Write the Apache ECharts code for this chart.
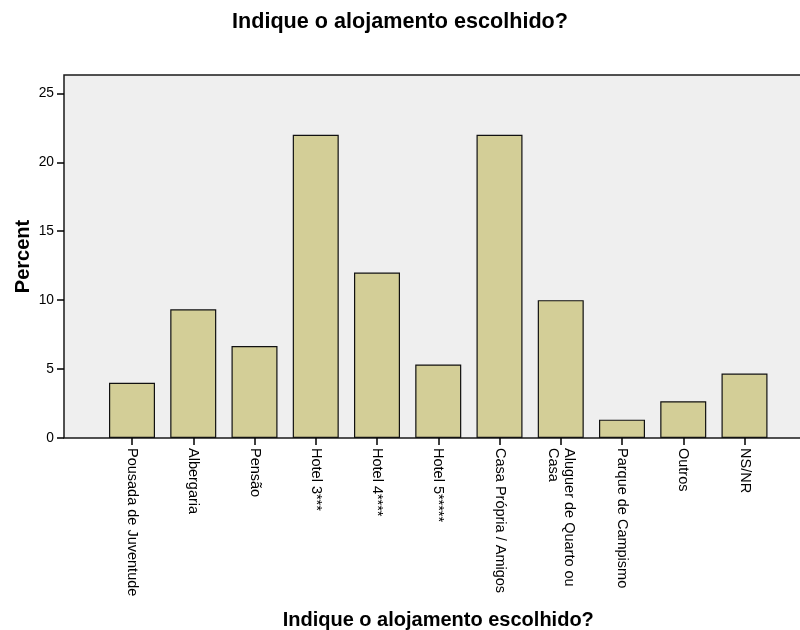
<!DOCTYPE html>
<html>
<head>
<meta charset="utf-8">
<script src="https://cdn.jsdelivr.net/npm/echarts@6/dist/echarts.min.js"></script>
<style>
  html, body { margin: 0; padding: 0; background: #fff; }
  #chart { width: 800px; height: 630px; }
</style>
</head>
<body>
<div id="chart"></div>
<script>
// Accommodation types and the share (%) of answers for each
const categories = [
  'Pousada de Juventude',
  'Albergaria',
  'Pensão',
  'Hotel 3***',
  'Hotel 4****',
  'Hotel 5*****',
  'Casa Própria / Amigos',
  'Aluguer de Quarto ou\nCasa',
  'Parque de Campismo',
  'Outros',
  'NS/NR'
];
const percents = [4.0, 9.33, 6.67, 22.0, 12.0, 5.33, 22.0, 10.0, 1.33, 2.67, 4.67];
const yTicks = [0, 5, 10, 15, 20, 25];

const titleText = 'Indique o alojamento escolhido?';
const yName = 'Percent';

const FONT = "'Liberation Sans', Arial, sans-serif";
const Y_MAX = 26.33;

const chart = echarts.init(document.getElementById('chart'), null, { renderer: 'canvas' });

chart.setOption({
  animation: false,
  backgroundColor: '#ffffff',
  title: {
    text: titleText,
    left: 'center',
    top: 6,
    textStyle: { fontFamily: FONT, fontSize: 21.6, fontWeight: 'bold', color: '#000' }
  },
  grid: [
    // framed plot area (extends a little past the right edge)
    { left: 64, top: 75, width: 748, bottom: 192, show: true, outerBoundsMode: 'none',
      backgroundColor: '#EFEFEF', borderColor: '#1a1a1a', borderWidth: 1.5, containLabel: false },
    // inner band used to place the bars
    { left: 101.375, top: 75, width: 673.75, bottom: 192, outerBoundsMode: 'none', containLabel: false }
  ],
  xAxis: [
    { type: 'category', gridIndex: 0, data: [''], show: false },
    {
      type: 'category', gridIndex: 1, data: categories,
      boundaryGap: true,
      axisLine: { show: false },
      axisTick: { show: true, alignWithLabel: true, length: 7, lineStyle: { color: '#000', width: 1.5 } },
      axisLabel: {
        rotate: -90, margin: 10, interval: 0,
        fontFamily: FONT, fontSize: 14.5, color: '#000', lineHeight: 16
      },
      name: titleText,
      nameLocation: 'middle',
      nameGap: 172,
      nameMoveOverlap: false,
      nameTextStyle: { fontFamily: FONT, fontSize: 20, fontWeight: 'bold', color: '#000' }
    }
  ],
  yAxis: [
    {
      type: 'value', gridIndex: 0, min: 0, max: Y_MAX,
      splitLine: { show: false },
      axisLine: { show: false },
      axisTick: { show: true, length: 7, customValues: yTicks, lineStyle: { color: '#000', width: 1.5 } },
      axisLabel: { customValues: yTicks, margin: 10, fontFamily: FONT, fontSize: 13.8, color: '#000' },
      name: yName,
      nameLocation: 'middle',
      nameRotate: 90,
      nameGap: 31,
      nameMoveOverlap: false,
      nameTextStyle: { fontFamily: FONT, fontSize: 20, fontWeight: 'bold', color: '#000' }
    },
    { type: 'value', gridIndex: 1, min: 0, max: Y_MAX, show: false }
  ],
  series: [{
    type: 'bar',
    xAxisIndex: 1,
    yAxisIndex: 1,
    data: percents,
    barWidth: 46,
    itemStyle: { color: '#D3CE97', borderColor: '#111', borderWidth: 1.2 }
  }]
});
</script>
</body>
</html>
